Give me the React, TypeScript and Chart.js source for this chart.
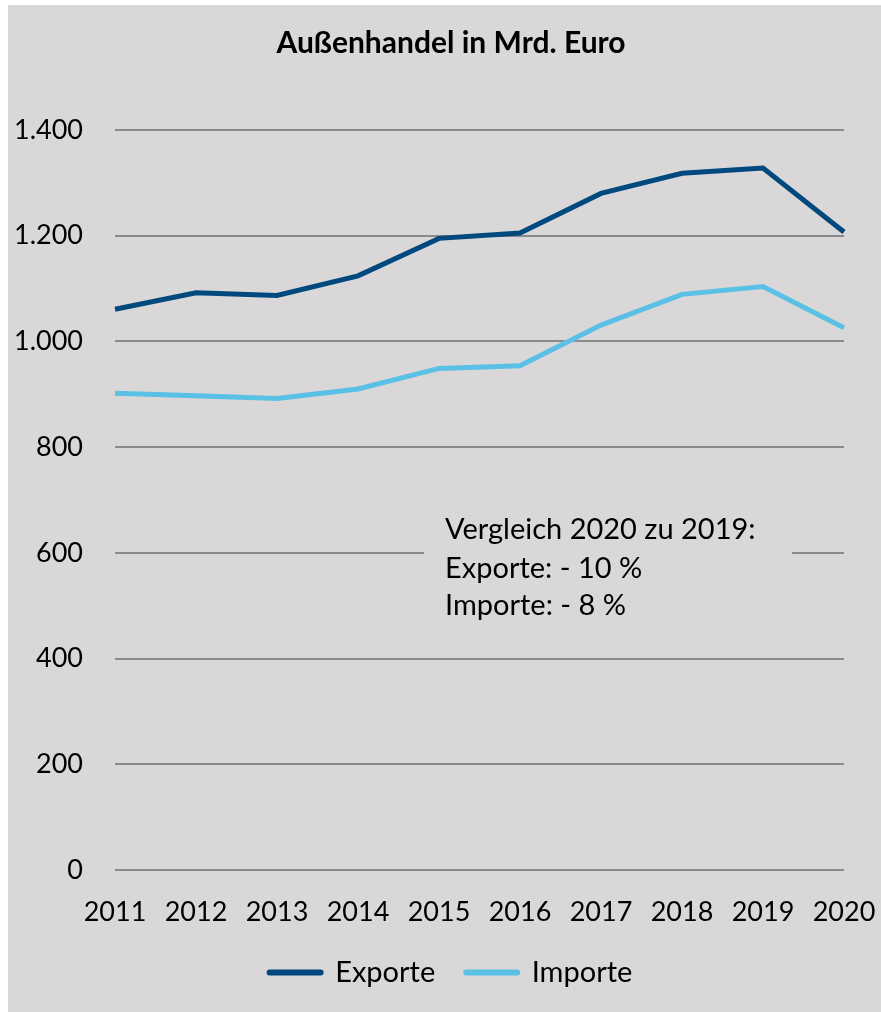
import React, { useEffect, useRef } from 'react';
import { Chart, registerables } from 'chart.js';

Chart.register(...registerables);

const years = ['2011', '2012', '2013', '2014', '2015', '2016', '2017', '2018', '2019', '2020'];
const exporte = [1061, 1092, 1087, 1124, 1195, 1205, 1280, 1318, 1328, 1207];
const importe = [902, 897, 892, 910, 949, 954, 1031, 1089, 1104, 1026];
const seriesNames = ['Exporte', 'Importe'];
const titleText = 'Außenhandel in Mrd. Euro';
const noteLines = ['Vergleich 2020 zu 2019:', 'Exporte: - 10 %', 'Importe: - 8 %'];

const BG = '#d9d7d8';
const FONT = 'Lato, "Open Sans", sans-serif';

function fmt(v: number): string {
  return String(v).replace(/\B(?=(\d{3})+(?!\d))/g, '.');
}

const notePlugin = {
  id: 'note',
  afterDatasetsDraw(chart: any) {
    const { ctx, chartArea } = chart;
    ctx.save();
    ctx.fillStyle = BG;
    ctx.fillRect(chartArea.left + 309, chartArea.top + 380, 368, 120);
    ctx.fillStyle = '#000';
    ctx.font = `29px ${FONT}`;
    ctx.textAlign = 'left';
    ctx.textBaseline = 'alphabetic';
    const offs = [409, 448, 485];
    noteLines.forEach((t, i) => {
      ctx.fillText(t, chartArea.left + 330, chartArea.top + offs[i]);
    });
    ctx.restore();
  },
};

export default function App() {
  const ref = useRef<HTMLCanvasElement | null>(null);

  useEffect(() => {
    if (!ref.current) return;
    const chart = new Chart(ref.current, {
      type: 'line',
      data: {
        labels: years,
        datasets: [
          {
            label: seriesNames[0],
            data: exporte,
            borderColor: '#00497f',
            backgroundColor: '#00497f',
            borderWidth: 5,
            pointRadius: 0,
            tension: 0,
          },
          {
            label: seriesNames[1],
            data: importe,
            borderColor: '#5bc0e6',
            backgroundColor: '#5bc0e6',
            borderWidth: 5,
            pointRadius: 0,
            tension: 0,
          },
        ],
      },
      options: {
        animation: false,
        responsive: false,
        layout: { padding: { left: 5, right: -8, top: 0, bottom: 15 } },
        plugins: {
          title: {
            display: true,
            text: titleText,
            color: '#000',
            font: { family: FONT, size: 30, weight: 'bold', lineHeight: 1.2 },
            padding: { top: 20, bottom: 69 },
          },
          legend: {
            position: 'bottom',
            labels: {
              color: '#000',
              font: { family: FONT, size: 29 },
              usePointStyle: true,
              pointStyle: 'line',
              pointStyleWidth: 51,
              boxHeight: 26,
              padding: 31,
              generateLabels(chart: any) {
                const items = Chart.defaults.plugins.legend.labels.generateLabels(chart);
                items.forEach((it: any) => {
                  it.lineCap = 'round';
                  it.lineWidth = 6;
                  it.pointStyle = 'line';
                });
                return items;
              },
            },
          },
          tooltip: { enabled: false },
        },
        scales: {
          x: {
            offset: false,
            afterFit(scale: any) {
              scale.height = 57;
              scale.paddingLeft = 0;
              scale.paddingRight = 37;
            },
            grid: { display: false, drawTicks: false },
            border: { display: false },
            ticks: {
              color: '#000',
              font: { family: FONT, size: 27 },
              padding: 26,
              maxRotation: 0,
              autoSkip: false,
            },
          },
          y: {
            min: 0,
            max: 1400,
            afterFit(scale: any) {
              scale.width = 102;
            },
            grid: { color: '#8a8a8a', lineWidth: 2, drawTicks: false },
            border: { display: false },
            ticks: {
              stepSize: 200,
              color: '#000',
              font: { family: FONT, size: 27 },
              padding: 32,
              callback: (v: any) => fmt(Number(v)),
            },
          },
        },
      },
      plugins: [notePlugin],
    });
    return () => chart.destroy();
  }, []);

  return (
    <div style={{ position: 'absolute', left: 8, top: 5, width: 873, height: 1007, background: BG }}>
      <canvas ref={ref} width={873} height={1007} />
    </div>
  );
}
